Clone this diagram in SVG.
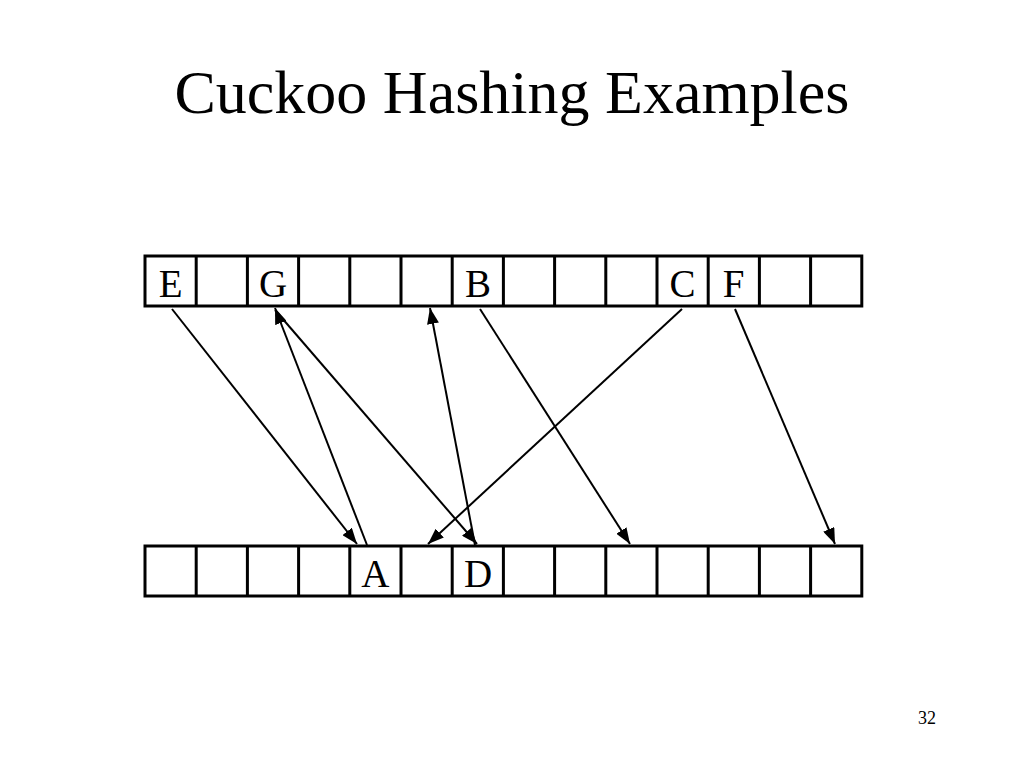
<svg xmlns="http://www.w3.org/2000/svg" width="1024" height="768" viewBox="0 0 1024 768">
<style>
.cell{fill:#fff;stroke:#000;stroke-width:3}
.lbl{font-family:"Liberation Serif","Times New Roman",serif;font-size:39px;fill:#000;text-anchor:middle}
.edge{stroke:#000;stroke-width:2;fill:none;marker-end:url(#ah)}
</style>
<defs>
<marker id="ah" viewBox="0 0 16 12" refX="16" refY="6" markerWidth="16" markerHeight="12" markerUnits="userSpaceOnUse" orient="auto">
<path d="M0,0 L16,6 L0,12 z" fill="#000"/>
</marker>
</defs>
<rect width="1024" height="768" fill="#fff"/>
<text x="512" y="113" font-family="Liberation Serif, Times New Roman, serif" font-size="62" text-anchor="middle">Cuckoo Hashing Examples</text>
<g id="top-table">
<rect class="cell" x="145" y="256" width="716.8" height="50"/>
<path d="M196.2,256V306M247.4,256V306M298.6,256V306M349.8,256V306M401,256V306M452.2,256V306M503.4,256V306M554.6,256V306M605.8,256V306M657,256V306M708.2,256V306M759.4,256V306M810.6,256V306" stroke="#000" stroke-width="3"/>
</g>
<g id="bottom-table">
<rect class="cell" x="145" y="546" width="716.8" height="50"/>
<path d="M196.2,546V596M247.4,546V596M298.6,546V596M349.8,546V596M401,546V596M452.2,546V596M503.4,546V596M554.6,546V596M605.8,546V596M657,546V596M708.2,546V596M759.4,546V596M810.6,546V596" stroke="#000" stroke-width="3"/>
</g>
<g id="node-E"><text class="lbl" x="170.6" y="297">E</text></g>
<g id="node-G"><text class="lbl" x="273" y="297">G</text></g>
<g id="node-B"><text class="lbl" x="478" y="297">B</text></g>
<g id="node-C"><text class="lbl" x="682.4" y="297">C</text></g>
<g id="node-F"><text class="lbl" x="733.6" y="297">F</text></g>
<g id="node-A"><text class="lbl" x="375.4" y="587">A</text></g>
<g id="node-D"><text class="lbl" x="478" y="587">D</text></g>
<g id="connectors">
<line class="edge" x1="172" y1="309" x2="357" y2="544"/>
<line class="edge" x1="367" y1="545" x2="275" y2="308"/>
<line class="edge" x1="275" y1="310" x2="477" y2="544"/>
<line class="edge" x1="475" y1="545" x2="430" y2="308"/>
<line class="edge" x1="480" y1="309" x2="630" y2="544"/>
<line class="edge" x1="682" y1="309" x2="428" y2="544"/>
<line class="edge" x1="735" y1="309" x2="835" y2="544"/>
</g>
<text x="927" y="724" font-family="Liberation Serif, Times New Roman, serif" font-size="18" text-anchor="middle">32</text>
</svg>
